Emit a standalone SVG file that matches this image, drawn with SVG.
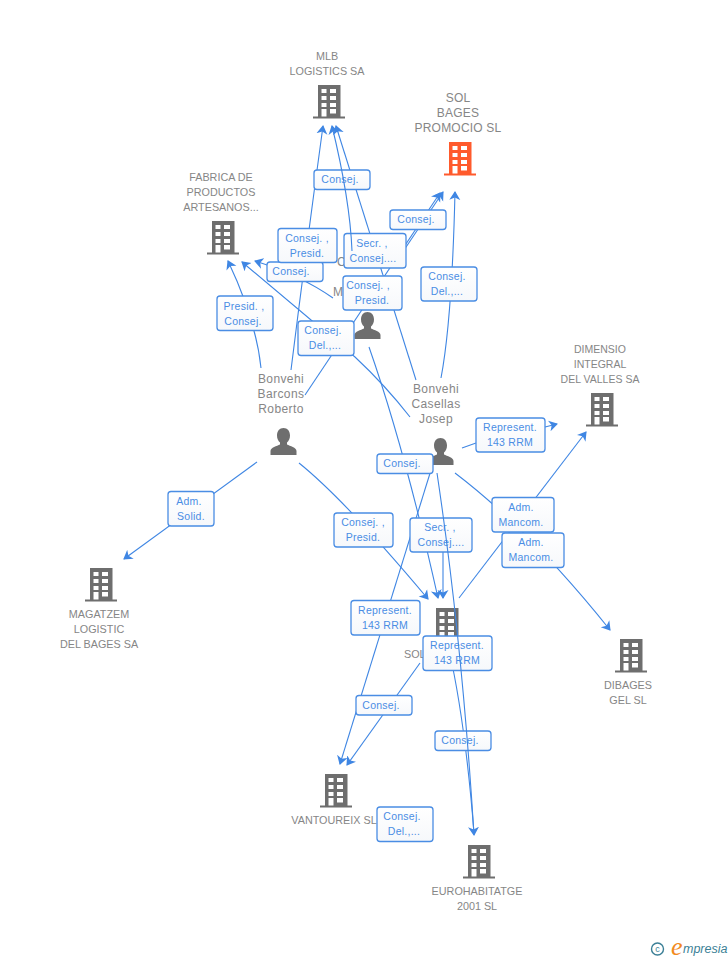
<svg xmlns="http://www.w3.org/2000/svg" width="728" height="960" viewBox="0 0 728 960">
<style>
.n{font:10.8px "Liberation Sans",Arial,sans-serif;fill:#868686;text-anchor:middle}
.p{font:12px "Liberation Sans",Arial,sans-serif;fill:#868686;text-anchor:middle;letter-spacing:.4px}
.e{fill:none;stroke:#3f86e3;stroke-width:1.1}
.a{fill:none;stroke:#3f86e3;stroke-width:1.1;marker-end:url(#ah)}
.b{fill:url(#lg);stroke:#4a8de4;stroke-width:1.3}
.t{font:10.5px "Liberation Sans",Arial,sans-serif;fill:#4a8de4;text-anchor:middle;letter-spacing:.25px}
</style>
<defs>
<linearGradient id="lg" x1="0" y1="0" x2="0" y2="1"><stop offset="0" stop-color="#ffffff"/><stop offset="1" stop-color="#f6f8fb"/></linearGradient>
<marker id="ah" markerWidth="12" markerHeight="12" refX="8" refY="6" orient="auto" markerUnits="userSpaceOnUse"><path d="M0,0.500 L9,6 L0,11.500 L2.500,6 Z" fill="#3f86e3"/></marker>
<symbol id="bld" viewBox="0 0 32 34" width="32" height="34" overflow="visible">
<path fill-rule="evenodd" d="M5,0H27.500V31.500H32V33.500H0V31.500H5ZM8.500,4V8H13.500V4ZM17,4V8H23V4ZM8.500,11V15H13.500V11ZM17,11V15H23V11ZM8.500,18V22H13.500V18ZM17,18V22H23V18ZM8.500,24V31.500H13.500V24ZM17,24V28.500H23V24Z"/>
</symbol>
<symbol id="per" viewBox="0 0 27 27" width="27" height="27" overflow="visible">
<path d="M13.500,0C17.500,0 20,3 20,7.500C20,10.500 18.800,13 17,14.500V16.500C20,18 26.500,19.500 26.500,23V27H0.500V23C0.500,19.500 7,18 10,16.500V14.500C8.200,13 7,10.500 7,7.500C7,3 9.500,0 13.500,0Z"/>
</symbol>
</defs>
<g id="connectors">
<path class="a" d="M291,370 Q306,250 323,126"/>
<path class="a" d="M416,380 L336,126"/>
<path class="a" d="M441,378 Q452,320 455,192"/>
<path class="a" d="M305,395 L440,193"/>
<path class="a" d="M400,256 L443,192"/>
<path class="a" d="M261,368 Q256,320 228,261"/>
<path class="a" d="M410,417 Q385,385 355,357 L242,262"/>
<path class="a" d="M333,298 Q300,275 255,261"/>
<path class="a" d="M257,462 L124,559"/>
<path class="a" d="M299,463 Q345,500 428,599"/>
<path class="a" d="M369,347 Q405,450 438,598"/>
<path class="a" d="M443,530 L443,598"/>
<path class="a" d="M431,470 L340,764"/>
<path class="a" d="M462,448 L476,443 M545,427 L557,424"/>
<path class="a" d="M455,473 Q530,530 610,630"/>
<path class="a" d="M459,598 L586,432"/>
<path class="a" d="M420,663 L347,765"/>
<path class="e" d="M449,650 Q465,720 474,833"/>
</g>
<g id="node-mlb"><use href="#bld" x="313" y="85" fill="#6e6e6e"/><text class="n"><tspan x="327" y="60">MLB</tspan><tspan x="327" y="75">LOGISTICS SA</tspan></text></g>
<g id="node-sol-bages-promocio"><use href="#bld" x="444" y="142" fill="#ff5a2c"/><text class="p" style="letter-spacing:.2px"><tspan x="458" y="102">SOL</tspan><tspan x="458" y="117">BAGES</tspan><tspan x="458" y="132">PROMOCIO SL</tspan></text></g>
<g id="node-fabrica"><use href="#bld" x="207" y="221" fill="#6e6e6e"/><text class="n"><tspan x="221" y="181">FABRICA DE</tspan><tspan x="221" y="196">PRODUCTOS</tspan><tspan x="221" y="211">ARTESANOS...</tspan></text></g>
<g id="node-dimensio"><use href="#bld" x="586" y="393" fill="#6e6e6e"/><text class="n" style="font-size:10.5px"><tspan x="600" y="353">DIMENSIO</tspan><tspan x="600" y="368">INTEGRAL</tspan><tspan x="600" y="383">DEL VALLES SA</tspan></text></g>
<g id="node-magatzem"><use href="#bld" x="85" y="568" fill="#6e6e6e"/><text class="n"><tspan x="99" y="618">MAGATZEM</tspan><tspan x="99" y="633">LOGISTIC</tspan><tspan x="99" y="648">DEL BAGES SA</tspan></text></g>
<g id="node-dibages"><use href="#bld" x="615" y="639" fill="#6e6e6e"/><text class="n"><tspan x="628" y="689">DIBAGES</tspan><tspan x="628" y="704">GEL SL</tspan></text></g>
<g id="node-sol"><use href="#bld" x="431" y="608" fill="#6e6e6e"/><text class="n" x="404" y="658" style="text-anchor:start">SOL</text></g>
<g id="node-vantoureix"><use href="#bld" x="320" y="774" fill="#6e6e6e"/><text class="n" x="334" y="824">VANTOUREIX SL</text></g>
<g id="node-eurohabitatge"><use href="#bld" x="463" y="845" fill="#6e6e6e"/><text class="n"><tspan x="477" y="895">EUROHABITATGE</tspan><tspan x="477" y="910">2001 SL</tspan></text></g>
<g id="node-person-hidden"><use href="#per" x="354" y="312" fill="#6e6e6e"/><text class="p" style="text-anchor:start"><tspan x="337" y="266">C</tspan><tspan x="333" y="296">M</tspan></text></g>
<g id="node-roberto"><use href="#per" x="270" y="428" fill="#6e6e6e"/><text class="p"><tspan x="281" y="383">Bonvehi</tspan><tspan x="281" y="398">Barcons</tspan><tspan x="281" y="413">Roberto</tspan></text></g>
<g id="node-josep"><use href="#per" x="427" y="438" fill="#6e6e6e"/><text class="p"><tspan x="436" y="393">Bonvehi</tspan><tspan x="436" y="408">Casellas</tspan><tspan x="436" y="423">Josep</tspan></text></g>
<g id="labels">
<g><rect class="b" x="314" y="170" width="56" height="19.500" rx="3"/><text class="t" x="340" y="183">Consej.</text></g>
<g><rect class="b" x="390" y="210" width="56" height="19.500" rx="3"/><text class="t" x="416" y="223">Consej.</text></g>
<g><rect class="b" x="267" y="262" width="56" height="19.500" rx="3"/><text class="t" x="291" y="275">Consej.</text></g>
<g><rect class="b" x="278" y="228.500" width="59" height="34" rx="3"/><text class="t"><tspan x="307" y="242">Consej. ,</tspan><tspan x="307" y="257">Presid.</tspan></text></g>
<g><rect class="b" x="344" y="233.500" width="62" height="34.500" rx="3"/><text class="t"><tspan x="372" y="247">Secr. ,</tspan><tspan x="373" y="262">Consej....</tspan></text></g>
<g><rect class="b" x="343" y="276" width="59" height="34" rx="3"/><text class="t"><tspan x="368" y="289">Consej. ,</tspan><tspan x="372" y="304">Presid.</tspan></text></g>
<g><rect class="b" x="421" y="267" width="56" height="34" rx="3"/><text class="t"><tspan x="447" y="280">Consej.</tspan><tspan x="447" y="295">Del.,...</tspan></text></g>
<g><rect class="b" x="217" y="296" width="56" height="34.500" rx="3"/><text class="t"><tspan x="244" y="310">Presid. ,</tspan><tspan x="243" y="325">Consej.</tspan></text></g>
<g><rect class="b" x="298" y="321" width="56" height="34.500" rx="3"/><text class="t"><tspan x="323" y="334">Consej.</tspan><tspan x="325" y="349">Del.,...</tspan></text></g>
<g><rect class="b" x="476" y="418" width="69" height="34" rx="3"/><text class="t"><tspan x="510" y="431">Represent.</tspan><tspan x="510" y="446">143 RRM</tspan></text></g>
<g><rect class="b" x="377" y="454" width="56" height="19.500" rx="3"/><text class="t" x="402" y="467">Consej.</text></g>
<g><rect class="b" x="334" y="513" width="59" height="34" rx="3"/><text class="t"><tspan x="363" y="526">Consej. ,</tspan><tspan x="363" y="541">Presid.</tspan></text></g>
<g><rect class="b" x="410" y="518" width="62" height="34" rx="3"/><text class="t"><tspan x="440" y="531">Secr. ,</tspan><tspan x="441" y="546">Consej....</tspan></text></g>
<g><rect class="b" x="492" y="497.500" width="62" height="34.500" rx="3"/><text class="t"><tspan x="521" y="511">Adm.</tspan><tspan x="521" y="526">Mancom.</tspan></text></g>
<g><rect class="b" x="502" y="533" width="62" height="34.500" rx="3"/><text class="t"><tspan x="531" y="546">Adm.</tspan><tspan x="531" y="561">Mancom.</tspan></text></g>
<g><rect class="b" x="168" y="491.500" width="46" height="34.500" rx="3"/><text class="t"><tspan x="189" y="505">Adm.</tspan><tspan x="191" y="520">Solid.</tspan></text></g>
<g><rect class="b" x="351" y="600.500" width="69" height="34.500" rx="3"/><text class="t"><tspan x="385" y="614">Represent.</tspan><tspan x="385" y="629">143 RRM</tspan></text></g>
<g><rect class="b" x="423" y="636" width="69" height="34.500" rx="3"/><text class="t"><tspan x="457" y="649">Represent.</tspan><tspan x="457" y="664">143 RRM</tspan></text></g>
<g><rect class="b" x="356" y="695.500" width="56" height="19.500" rx="3"/><text class="t" x="381" y="709">Consej.</text></g>
<g><rect class="b" x="435" y="731" width="56" height="19.500" rx="3"/><text class="t" x="460" y="744">Consej.</text></g>
<g><rect class="b" x="377" y="807" width="56" height="34.500" rx="3"/><text class="t"><tspan x="402" y="820">Consej.</tspan><tspan x="404" y="835">Del.,...</tspan></text></g>
</g>
<g id="connectors-over">
<path class="a" d="M352,251 Q350,200 332,126"/>
<path class="a" d="M437,473 Q462,640 474,835"/>
</g>
<g id="logo">
<circle cx="657.500" cy="949" r="6" fill="none" stroke="#3b7f96" stroke-width="1.400"/>
<text x="657.500" y="952" style="font:9px 'Liberation Sans',sans-serif;fill:#3b7f96;text-anchor:middle">c</text>
<text x="671" y="955" style="font:italic 26px 'Liberation Serif',serif;fill:#f28a1e">e</text>
<text x="683" y="953" style="font:italic 12.500px 'Liberation Sans',sans-serif;fill:#3b7f96">mpresia</text>
</g>
</svg>
